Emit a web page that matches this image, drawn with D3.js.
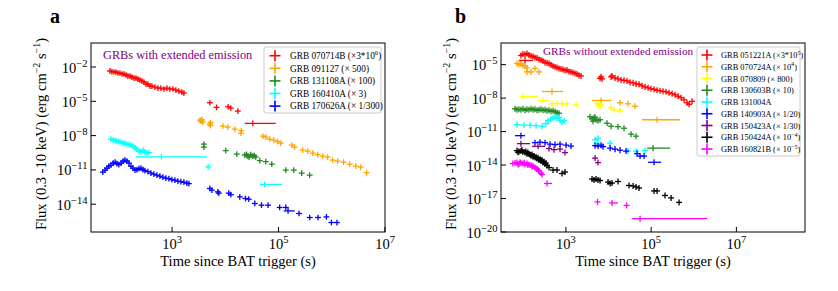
<!DOCTYPE html>
<html>
<head>
<meta charset="utf-8">
<script src="https://cdn.jsdelivr.net/npm/d3@7"></script>
<style>
  body { margin: 0; background: #fff; }
  svg { display: block; }
  text { font-family: "Liberation Serif", "Times New Roman", serif; }
</style>
</head>
<body>
<svg id="chart" width="838" height="291"></svg>
<script>
// each point: [time (s), flux] or [time, flux, tStart, tEnd] when the time bin is wide

// ---- panel a: GRBs with extended emission ----
const grb070714B = [
  [68,4.5e-3],[74,4.0e-3],[81,3.65e-3],[88,3.65e-3],[96,3.0e-3],[105,3.0e-3],[115,2.44e-3],[125,2.44e-3],
  [136,2.0e-3],[148,1.63e-3],[162,1.63e-3],[176,1.33e-3],[192,1.09e-3],[210,1.09e-3],[229,8.9e-4],[249,7.3e-4],
  [272,5.9e-4],[296,4.9e-4],[323,3.2e-4],[352,3.2e-4],[384,2.17e-4],[418,2.17e-4],[476,1.77e-4],[542,1.45e-4],
  [617,1.45e-4],[703,1.19e-4],[800,1.45e-4],[910,1.19e-4],[1037,1.19e-4],[1180,9.7e-5],[1343,7.9e-5],[1528,6.5e-5],[1667,5.3e-5],
  [5130,7.5e-6],[6840,2.96e-6],[11300,3.34e-6],[12700,2.57e-6],[17200,1.4e-6],
  [32800,1.17e-7,23200,88700]
];
const grb091127 = [
  [3330,2.29e-7],[3470,1.87e-7],[3630,2.53e-7],[3790,1.53e-7],[3550,2.1e-7],
  [5130,1.02e-7],[5300,1.4e-7],[5250,7.5e-8],
  [9000,6.8e-8],[11100,5.6e-8],[15100,3.7e-8],[20000,2.75e-8],[19600,1.66e-8],
  [50600,9.1e-9],[57600,7.4e-9],[68400,4.95e-9],[81400,4.05e-9],[96700,3.0e-9],[110000,2.2e-9],
  [177000,1.48e-9],[201000,9.9e-10],[284000,5.4e-10],[353000,4.4e-10],[438000,2.95e-10],[544000,2.18e-10],
  [676000,1.61e-10],[838000,1.32e-10],[1.04e6,7.2e-11],[1.29e6,5.9e-11],[1.67e6,4.8e-11],[2.17e6,3.2e-11],
  [2.81e6,2.14e-11],[3.49e6,1.75e-11],[4.52e6,5.8e-12]
];
const grb131108A = [
  [3960,1.81e-9],[3960,9.9e-10],[10200,4.9e-10],[16400,2.41e-10],[23200,1.97e-10],[25000,2.3e-10],[26500,1.61e-10],
  [28000,1.3e-10],[30100,2.18e-10],[32800,1.61e-10],[35000,1.8e-10],[37400,1.32e-10],[44500,6.5e-11],[57600,5.3e-11],
  [74600,3.2e-11],[137000,9.6e-12],[193000,9.6e-12],[272000,5.2e-12],[385000,3.5e-12]
];
const grb160410A = [
  [71,4.95e-9],[78,4.05e-9],[85,3.66e-9],[92,3.31e-9],[100,3.0e-9],[110,2.71e-9],[120,2.21e-9],[130,2.21e-9],
  [142,1.81e-9],[155,1.64e-9],[169,1.48e-9],[184,1.21e-9],[201,8.9e-10],[219,6.6e-10],[239,4.4e-10],[260,3.6e-10],
  [284,5.4e-10],[309,3.6e-10],[337,2.95e-10],[368,3.26e-10],
  [631,1.4e-10,209,4500],[4760,1.86e-11],[55100,5.4e-13,44500,115000]
];
const grb170626A = [
  [50,6.4e-12],[55,9.6e-12],[60,1.43e-11],[65,2.14e-11],[71,2.62e-11],[78,3.93e-11],[85,4.8e-11],[92,3.55e-11],
  [100,2.9e-11],[110,3.93e-11],[120,5.9e-11],[130,7.2e-11],[142,5.9e-11],[155,3.93e-11],[169,2.14e-11],[184,1.43e-11],
  [201,9.6e-12],[219,1.06e-11],[239,1.29e-11],[260,1.43e-11],[284,1.06e-11],[309,8.7e-12],[352,7.1e-12],[401,5.2e-12],
  [456,4.27e-12],[519,3.49e-12],[591,2.85e-12],[673,2.33e-12],[766,1.91e-12],[873,1.72e-12],[993,1.41e-12],
  [1130,1.27e-12],[1287,1.04e-12],[1465,9.4e-13],[1667,8.5e-13],[1898,6.95e-13],[2070,6.3e-13],
  [5130,2.39e-13],[5590,1.7e-13],[7240,1.2e-13],[7560,9.3e-14],[11600,9.3e-14],[12700,6.8e-14],[18700,4.4e-14],
  [23900,3.18e-14],[27600,2.76e-14],[35800,1.16e-14],[47800,8.2e-15],[63600,8.2e-15],[105000,5.2e-15],[137000,5.2e-15],
  [151000,2.6e-15,125000,201000],[243000,1.55e-15],[385000,6.9e-16],[552000,6.9e-16],[793000,7.8e-16],
  [984000,2.5e-16],[1.25e6,2.5e-16]
];

// ---- panel b: GRBs without extended emission ----
const grb051221A = [
  [88,6.6e-5],[98,9.0e-5],[110,8.1e-5],[122,1.0e-4],[136,7.3e-5],[152,6.0e-5],[169,5.4e-5],[188,4.4e-5],
  [210,3.96e-5],[234,2.91e-5],[261,2.63e-5],[290,2.14e-5],[324,1.57e-5],[361,1.42e-5],[402,1.28e-5],[448,9.4e-6],
  [499,7.7e-6],[556,6.2e-6],[619,5.6e-6],[689,4.6e-6],[768,4.13e-6],[855,3.73e-6],[952,3.03e-6],[1061,3.37e-6],
  [1182,2.47e-6],[1317,2.23e-6],[1467,2.01e-6],[1634,1.64e-6],[1820,1.48e-6],[2030,1.09e-6],[2260,9.8e-7],
  [110,2.37e-5,79,169],
  [6320,5.9e-7],[6670,8.0e-7],[7040,5.3e-7],[11500,8.0e-7],[12100,9.8e-7],[14200,6.5e-7],[16700,5.3e-7],
  [19700,4.3e-7],[23100,3.9e-7],[27200,3.5e-7],[32000,2.58e-7],[37700,2.32e-7],[44300,1.89e-7],[52000,1.71e-7],
  [61200,1.25e-7],[71900,1.02e-7],[84700,8.3e-8],[99500,6.8e-8],[117000,6.1e-8],[138000,5.0e-8],[162000,4.5e-8],
  [190000,4.05e-8],[224000,3.65e-8],[263000,2.97e-8],[310000,2.42e-8],[364000,1.97e-8],[428000,1.45e-8],
  [504000,1.06e-8],[592000,7.0e-9],[697000,3.8e-9],[777000,2.8e-9],[913000,5.2e-9]
];
const grb070724A = [
  [71,1.28e-5],[79,1.04e-5],[88,1.15e-5],[98,8.5e-6],[110,7.7e-6],[122,5.1e-6],[122,2.23e-6],[152,2.23e-6],
  [188,4.6e-6],[234,2.23e-6],
  [472,3.9e-8,275,855],[6670,6.1e-9,4100,11500],[18600,3.8e-9],[28700,3.1e-9],[41900,1.85e-9],
  [138000,1.15e-10,61200,478000]
];
const grb070809 = [
  [98,1.39e-8,84,222],[290,6.1e-9,222,402],[472,3.1e-9],[619,3.4e-9],[811,3.1e-9],[1061,3.1e-9],[1730,2.5e-9],
  [5370,3.4e-9],[5670,2.28e-9],[6320,1.67e-9],[6670,2.5e-9],[11500,1.36e-9],[13500,9.0e-10],[18600,7.3e-10]
];
const grb130603B = [
  [64,1.11e-9],[71,9.0e-10],[79,1.0e-9],[88,9.0e-10],[98,1.11e-9],[110,8.1e-10],[122,1.0e-9],[136,9.0e-10],
  [152,1.11e-9],[169,9.0e-10],[188,1.0e-9],[210,8.1e-10],[234,9.0e-10],[261,1.0e-9],[290,8.1e-10],[324,9.0e-10],
  [361,7.3e-10],[402,8.1e-10],[448,6.6e-10],[499,7.3e-10],[556,6.0e-10],[619,4.9e-10],[689,4.4e-10],
  [3680,2.14e-10],[4100,1.42e-10],[4570,1.74e-10],[5090,1.15e-10],[5670,9.4e-11],[4330,8.5e-11],[4830,1.93e-10],
  [6320,1.15e-10],[9220,5.6e-11],[11500,3.0e-11],[16700,2.74e-11],[23100,2.0e-11],[33800,5.9e-12],[44300,3.9e-12],
  [111000,3.3e-13,80200,278000]
];
const grb131004A = [
  [71,4.13e-11,60,88],[104,3.72e-11,88,125],[144,3.72e-11,125,170],[199,3.36e-11,170,235],[275,3.03e-11,235,320],
  [341,5.1e-11],[380,9.4e-11],[448,1.28e-10],[499,1.74e-10],[556,1.93e-10],[619,1.57e-10],[689,1.93e-10],
  [728,1.04e-10],[811,6.9e-11],[904,9.4e-11],
  [4830,1.89e-12],[5670,2.58e-12],[5370,9.2e-13],[10900,9.2e-13],[28700,1.78e-13],[44300,1.78e-13],[71900,1.97e-13]
];
const grb140903A = [
  [88,4.3e-12,64,110],[188,1.02e-12],[247,1.13e-12],[324,1.02e-12],[424,7.5e-13],[556,6.8e-13],[728,7.5e-13],
  [1010,6.1e-13],[1317,5.0e-13],
  [4830,5.5e-13],[5670,5.0e-13],[6670,6.1e-13],[7430,4.5e-13],[10900,3.3e-13],[14200,2.68e-13],[18600,2.18e-13],
  [25800,1.78e-13],[46700,1.06e-13],[55000,6.4e-14],[68200,6.4e-14],
  [117000,1.78e-14,84700,171000]
];
const grb150423A = [
  [88,8.3e-13,71,144],[222,4.8e-13,160,324],[402,3.0e-13],[526,2.42e-13],[728,2.68e-13],[952,1.31e-13],
  [4830,4.2e-14],[5670,1.67e-14]
];
const grb150424A = [
  [71,1.97e-13],[75,1.4e-13],[79,1.6e-13],[88,1.78e-13],[93,2.2e-13],[98,1.45e-13],[110,1.31e-13],[115,1.6e-13],
  [122,1.06e-13],[128,1.3e-13],[136,9.6e-14],[145,8.5e-14],[152,7.0e-14],[160,9.0e-14],[169,5.7e-14],[178,6.5e-14],
  [188,4.7e-14],[200,5.0e-14],[210,3.8e-14],[222,4.5e-14],[234,2.8e-14],[248,3.3e-14],[261,2.28e-14],[275,2.8e-14],
  [290,1.67e-14],[305,2.0e-14],[324,1.23e-14],[340,1.5e-14],[361,9.0e-15],[402,6.0e-15],
  [499,3.6e-15],[619,3.6e-15],[811,1.74e-15],[952,2.37e-15],
  [4100,5.6e-16],[4570,4.6e-16],[5090,5.6e-16],[5670,4.6e-16],[6320,4.13e-16],[9750,3.0e-16],[10900,2.23e-16],
  [12100,2.47e-16],[16700,3.36e-16],[30300,1.48e-16],[37700,1.33e-16],[44300,1.09e-16],[52000,8.8e-17],
  [117000,4.8e-17],[138000,4.8e-17],[212000,1.89e-17],[294000,1.13e-17],[452000,4.5e-18]
];
const grb160821B = [
  [57,1.36e-14],[64,1.51e-14],[71,1.67e-14],[75,1.1e-14],[79,1.23e-14],[84,1.8e-14],[88,1.51e-14],[98,1.36e-14],
  [105,1.6e-14],[110,1.11e-14],[122,1.36e-14],[128,1.0e-14],[136,1.11e-14],[152,1.0e-14],[160,7.0e-15],[169,8.1e-15],
  [188,6.0e-15],[200,5.0e-15],[210,4.4e-15],[225,3.5e-15],[234,2.91e-15],[261,1.93e-15],[275,1.42e-15],
  [361,2.23e-16,306,472],[5520,5.0e-18],[12100,4.05e-18,10300,16700],[26500,2.42e-18],[55000,1.57e-19,35700,2.06e6]
];

const labelsA = ["GRB 070714B (×3*10^{6})", "GRB 091127 (× 500)", "GRB 131108A (× 100)",
                 "GRB 160410A (× 3)", "GRB 170626A (× 1/300)"];
const labelsB = ["GRB 051221A (×3*10^{5})", "GRB 070724A (× 10^{4})", "GRB 070809 (× 800)",
                 "GRB 130603B (× 10)", "GRB 131004A", "GRB 140903A (× 1/20)", "GRB 150423A (× 1/30)",
                 "GRB 150424A (× 10^{−4})", "GRB 160821B (× 10^{−5})"];
const xTicks = [1e3, 1e5, 1e7];
const yTicksA = [1e-2, 1e-5, 1e-8, 1e-11, 1e-14];
const yTicksB = [1e-5, 1e-8, 1e-11, 1e-14, 1e-17, 1e-20];

const colorsA = ["#ff0000", "#ffa500", "#228b22", "#00ffff", "#0000ff"];
const colorsB = ["#ff0000", "#ffa500", "#ffff00", "#228b22", "#00ffff", "#0000ff", "#800080", "#000000", "#ff00ff"];

const svg = d3.select("#chart");

// writes "10^{3}" style strings as tspans with raised exponents
function richText(text, str, size, supSize, rise) {
  const parts = str.split(/\^\{([^}]*)\}/);
  let up = false;
  parts.forEach(function(p, i) {
    if (p === "") return;
    const t = text.append("tspan").text(p);
    if (i % 2 === 1) {
      t.attr("font-size", supSize).attr("dy", up ? 0 : -rise);
      up = true;
    } else {
      t.attr("font-size", size).attr("dy", up ? rise : 0);
      up = false;
    }
  });
  return text;
}

function expLabel(v) {
  const e = Math.round(Math.log10(v));
  return "10^{" + (e < 0 ? "−" + (-e) : e) + "}";
}

const panels = [
  {name: "a", left: 91, right: 385, top: 43, bottom: 232,
   xDomain: [30, 1e7], yDomain: [Math.pow(10, -16.43), Math.pow(10, 0.1)], yTicks: yTicksA,
   series: [grb070714B, grb091127, grb131108A, grb160410A, grb170626A],
   labels: labelsA, colors: colorsA, dT: 0.055, dF: 0.25,
   note: "GRBs with extended emission", noteX: 103, noteY: 59, noteSize: 12.3,
   legend: {x: 264, y: 47, w: 117, h: 66, rowY: 55.7, rowH: 12.6, mx: 275, tx: 290, size: 9.3}},
  {name: "b", left: 501, right: 805, top: 43, bottom: 232,
   xDomain: [30, Math.pow(10, 8.61)], yDomain: [1e-20, Math.pow(10, -3.06)], yTicks: yTicksB,
   series: [grb051221A, grb070724A, grb070809, grb130603B, grb131004A, grb140903A, grb150423A, grb150424A, grb160821B],
   labels: labelsB, colors: colorsB, dT: 0.07, dF: 0.27,
   note: "GRBs without extended emission", noteX: 543, noteY: 55, noteSize: 11.2,
   legend: {x: 697, y: 47, w: 103, h: 109, rowY: 55, rowH: 11.75, mx: 707, tx: 721, size: 8.4}}
];

panels.forEach(function(p, pi) {
  const x = d3.scaleLog().domain(p.xDomain).range([p.left, p.right]);
  const y = d3.scaleLog().domain(p.yDomain).range([p.bottom, p.top]);
  const g = svg.append("g");

  g.append("clipPath").attr("id", "clip" + pi)
    .append("rect").attr("x", p.left).attr("y", p.top)
    .attr("width", p.right - p.left).attr("height", p.bottom - p.top);

  // data points with error bars
  const plot = g.append("g").attr("clip-path", "url(#clip" + pi + ")");
  p.series.forEach(function(pts, si) {
    const sg = plot.append("g").attr("stroke", p.colors[si]).attr("stroke-width", 1.3);
    const k = Math.pow(10, p.dT), kf = Math.pow(10, p.dF);
    sg.selectAll("line.h").data(pts).join("line").attr("class", "h")
      .attr("x1", d => x(d.length > 2 ? d[2] : d[0] / k))
      .attr("x2", d => x(d.length > 2 ? d[3] : d[0] * k))
      .attr("y1", d => y(d[1])).attr("y2", d => y(d[1]));
    sg.selectAll("line.v").data(pts).join("line").attr("class", "v")
      .attr("x1", d => x(d[0])).attr("x2", d => x(d[0]))
      .attr("y1", d => y(d[1] / kf)).attr("y2", d => y(d[1] * kf));
  });

  // frame
  g.append("rect").attr("x", p.left).attr("y", p.top)
    .attr("width", p.right - p.left).attr("height", p.bottom - p.top)
    .attr("fill", "none").attr("stroke", "#000").attr("stroke-width", 1);

  // ticks (inward) and labels
  xTicks.forEach(function(v) {
    const tx = x(v);
    g.append("line").attr("x1", tx).attr("x2", tx).attr("y1", p.bottom).attr("y2", p.bottom - 5)
      .attr("stroke", "#000");
    richText(g.append("text").attr("x", tx).attr("y", 249).attr("text-anchor", "middle"),
      expLabel(v), 14.5, 10.5, 6);
  });
  p.yTicks.forEach(function(v) {
    const ty = y(v);
    g.append("line").attr("x1", p.left).attr("x2", p.left + 5).attr("y1", ty).attr("y2", ty)
      .attr("stroke", "#000");
    richText(g.append("text").attr("x", p.left - 3.5).attr("y", ty + 5.5).attr("text-anchor", "end"),
      expLabel(v), 14.5, 10.5, 6);
  });

  // axis titles
  richText(g.append("text").attr("x", (p.left + p.right) / 2).attr("y", 266)
    .attr("text-anchor", "middle"), "Time since BAT trigger (s)", 14.5, 10, 6);
  richText(g.append("text").attr("transform", "translate(" + (p.left - 45) + "," + 134 + ") rotate(-90)")
    .attr("text-anchor", "middle"), "Flux (0.3 -10 keV) (erg cm^{−2} s^{−1})", 14.5, 10, 6);

  // panel letter
  g.append("text").attr("x", p.name === "a" ? 50 : 455).attr("y", 23)
    .attr("font-size", 20).attr("font-weight", "bold").text(p.name);

  // annotation
  g.append("text").attr("x", p.noteX).attr("y", p.noteY).attr("font-size", p.noteSize)
    .attr("fill", "#800080").text(p.note);

  // legend
  const L = p.legend;
  const lg = g.append("g");
  lg.append("rect").attr("x", L.x).attr("y", L.y).attr("width", L.w).attr("height", L.h)
    .attr("rx", 2).attr("fill", "#fff").attr("fill-opacity", 0.8)
    .attr("stroke", "#cccccc").attr("stroke-width", 1);
  p.labels.forEach(function(lab, i) {
    const cy = L.rowY + i * L.rowH;
    lg.append("line").attr("x1", L.mx - 5.5).attr("x2", L.mx + 5.5).attr("y1", cy).attr("y2", cy)
      .attr("stroke", p.colors[i]).attr("stroke-width", 1.6);
    lg.append("line").attr("x1", L.mx).attr("x2", L.mx).attr("y1", cy - 5.5).attr("y2", cy + 5.5)
      .attr("stroke", p.colors[i]).attr("stroke-width", 1.6);
    richText(lg.append("text").attr("x", L.tx).attr("y", cy + 3.2), lab, L.size, L.size * 0.72, 3.5);
  });
});
</script>
</body>
</html>
